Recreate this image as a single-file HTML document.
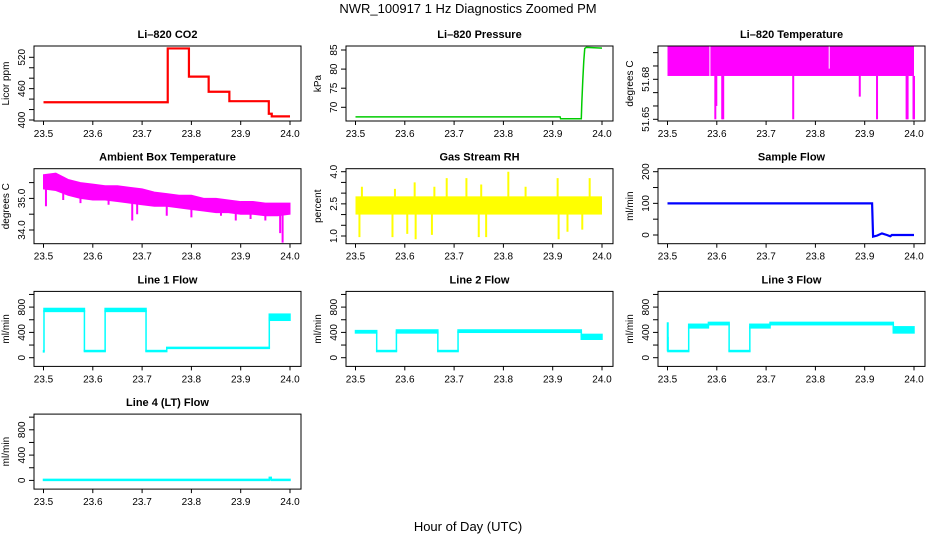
<!DOCTYPE html>
<html><head><meta charset="utf-8">
<style>
html,body{margin:0;padding:0;background:#fff;}
svg{display:block;font-family:"Liberation Sans",sans-serif;}
</style></head>
<body>
<svg id="c" width="936" height="540" viewBox="0 0 936 540" xmlns="http://www.w3.org/2000/svg">
<text x="468" y="13" text-anchor="middle" font-size="13">NWR_100917  1 Hz Diagnostics Zoomed PM</text>
<text x="468" y="531" text-anchor="middle" font-size="13">Hour of Day (UTC)</text>
</svg>
<script>
// x ticks
const xTicks = [23.5, 23.6, 23.7, 23.8, 23.9, 24.0];
const xTickLabels = ["23.5", "23.6", "23.7", "23.8", "23.9", "24.0"];

// CO2 (step series)
const co2Times = [23.5, 23.752, 23.795, 23.835, 23.877, 23.957, 23.963, 24.0];
const co2Vals = [434, 537, 483, 454, 436, 412, 407, 407];

// Pressure
const presTimes = [23.5, 23.915, 23.916, 23.958, 23.959, 23.961, 23.963, 23.965, 23.968, 24.0];
const presVals = [67.5, 67.5, 67.0, 67.0, 71, 77, 82, 85.4, 85.7, 85.5];

// Li-820 temperature band and spikes
const tempBandLo = 51.6825;
const tempBandHi = 51.7095;
const tempSpikeTimes = [23.597, 23.599, 23.611, 23.613, 23.755, 23.89, 23.925, 23.985, 23.987, 23.999, 24.0];
const tempSpikeVals = [51.65, 51.66, 51.65, 51.65, 51.65, 51.667, 51.65, 51.65, 51.65, 51.65, 51.65];
const tempGapTimes = [23.586, 23.828, 23.72];
const tempGapLo = [51.682, 51.688, 51.705];

// Ambient box temperature band
const ambTimes = [23.5,23.525,23.55,23.575,23.6,23.625,23.65,23.675,23.7,23.725,23.75,23.775,23.8,23.825,23.85,23.875,23.9,23.925,23.95,23.975,24.0];
const ambHi = [35.75,35.8,35.6,35.5,35.45,35.4,35.4,35.35,35.3,35.2,35.15,35.1,35.1,35.0,35.0,34.95,34.9,34.9,34.85,34.85,34.85];
const ambLo = [35.3,35.25,35.1,35.0,34.95,34.95,34.9,34.85,34.8,34.75,34.75,34.7,34.65,34.6,34.55,34.55,34.5,34.5,34.45,34.45,34.5];
const ambSpikeTimes = [23.505,23.54,23.575,23.632,23.68,23.69,23.75,23.8,23.86,23.89,23.92,23.95,23.98,23.985];
const ambSpikeVals = [34.75,34.95,34.85,34.8,34.3,34.5,34.45,34.4,34.45,34.3,34.35,34.3,33.9,33.6];

// Gas stream RH
const rhBandLo = 2.0;
const rhBandHi = 2.85;
const rhSpikeTimes = [23.508,23.513,23.575,23.58,23.605,23.62,23.622,23.655,23.66,23.685,23.725,23.75,23.755,23.765,23.81,23.845,23.91,23.912,23.93,23.96,23.975];
const rhSpikeVals = [0.95,3.3,0.95,3.2,1.1,3.5,0.85,1.05,3.3,3.7,3.7,0.95,3.4,0.95,4.0,3.3,3.7,0.85,1.2,1.3,3.7];

// Sample flow
const sfTimes = [23.5, 23.915, 23.917, 23.925, 23.935, 23.945, 23.952, 23.955, 24.0];
const sfVals = [100, 100, -5, -2, 5, 0, -4, 0, 0];

// Line flows (segments)
const l1Start = [23.5,23.501,23.583,23.625,23.708,23.75,23.958];
const l1End = [23.501,23.583,23.625,23.708,23.75,23.958,24.0];
const l1Lo = [100,720,95,720,95,140,580];
const l1Hi = [100,790,105,790,105,155,700];
const l2Start = [23.5,23.543,23.583,23.667,23.708,23.958];
const l2End = [23.543,23.583,23.667,23.708,23.958,24.0];
const l2Lo = [380,95,380,95,390,280];
const l2Hi = [440,105,450,105,450,380];
const l3Start = [23.5,23.501,23.543,23.583,23.625,23.667,23.708,23.958];
const l3End = [23.501,23.543,23.583,23.625,23.667,23.708,23.958,24.0];
const l3Lo = [100,95,460,510,95,460,510,380];
const l3Hi = [560,105,540,570,105,540,570,500];
const l4Start = [23.5,23.958,23.962];
const l4End = [23.958,23.962,24.0];
const l4Lo = [0,0,0];
const l4Hi = [8,60,8];

const svg = document.getElementById('c');
const NS = 'http://www.w3.org/2000/svg';
function mk(tag, attrs, parent){
  const e = document.createElementNS(NS, tag);
  for (const k in attrs) e.setAttribute(k, attrs[k]);
  (parent||svg).appendChild(e);
  return e;
}
const colLeft = [34, 346, 658];
const rowTop = [46, 168.7, 291.4, 414.1];
const BW = 267, BH = 75;

function panel(col, row, cfg){
  const L = colLeft[col], T = rowTop[row];
  const g = mk('g', {});
  
  
  const sx = v => L + 9.5 + (v - 23.5) / 0.5 * 246.5;
  const sy = v => T + cfg.p1 + (v - cfg.v1) / (cfg.v2 - cfg.v1) * (cfg.p2 - cfg.p1);
  const clip = 'clip' + col + row;
  const cp = mk('clipPath', {id: clip}, g);
  mk('rect', {x: L, y: T, width: BW, height: BH}, cp);
  const plot = mk('g', {'clip-path': 'url(#' + clip + ')'}, g);
  
  
  cfg.draw(plot, sx, sy);
  const box = mk('rect', {x: L, y: T, width: BW, height: BH, fill: 'none', stroke: '#000', 'stroke-width': 1}, g);
  
  
  const t = mk('text', {x: L + BW/2, y: T - 8, 'text-anchor': 'middle', 'font-size': 11, 'font-weight': 'bold'}, g);
  t.textContent = cfg.title;
  
  
  xTicks.forEach((v, i) => {
    const x = sx(v);
    mk('line', {x1: x, x2: x, y1: T + BH, y2: T + BH + 4, stroke: '#000'}, g);
    const tl = mk('text', {x: x, y: T + BH + 16, 'text-anchor': 'middle', 'font-size': 10}, g);
    tl.textContent = xTickLabels[i];
    
    
  });
  cfg.yTicks.forEach(v => {
    const y = sy(v);
    mk('line', {x1: L - 5, x2: L, y1: y, y2: y, stroke: '#000'}, g);
  });
  cfg.yLabels.forEach((s, i) => {
    const y = sy(cfg.yLabelVals[i]);
    const tl = mk('text', {x: L - 9, y: y, 'text-anchor': 'middle', 'font-size': 10, transform: 'rotate(-90 ' + (L - 9) + ' ' + y + ')'}, g);
    tl.textContent = s;
    
    
  });
  const yt = mk('text', {x: L - 25, y: T + BH/2, 'text-anchor': 'middle', 'font-size': 10, transform: 'rotate(-90 ' + (L - 25) + ' ' + (T + BH/2) + ')'}, g);
  yt.textContent = cfg.ylab;
  
  
}

function stepPath(ts, vs, sx, sy){
  let d = 'M' + sx(ts[0]) + ' ' + sy(vs[0]);
  for (let i = 1; i < ts.length; i++){
    d += ' L' + sx(ts[i]) + ' ' + sy(vs[i-1]) + ' L' + sx(ts[i]) + ' ' + sy(vs[i]);
  }
  return d;
}
function linePath(ts, vs, sx, sy){
  return ts.map((t, i) => (i ? 'L' : 'M') + sx(t) + ' ' + sy(vs[i])).join(' ');
}
function interp(ts, vs, t){
  for (let i = 1; i < ts.length; i++){
    if (t <= ts[i]){
      const f = (t - ts[i-1]) / (ts[i] - ts[i-1]);
      return vs[i-1] + f * (vs[i] - vs[i-1]);
    }
  }
  return vs[vs.length - 1];
}
function spikes(p, ts, vs, baseFn, color, sx, sy){
  ts.forEach((t, i) => {
    const l = mk('line', {x1: sx(t), x2: sx(t), y1: sy(baseFn(t)), y2: sy(vs[i]), stroke: color, 'stroke-width': 2}, p);
    
    
  });
}
function segs(p, st, en, lo, hi, color, sx, sy){
  let prevY = null;
  st.forEach((s, i) => {
    const x1 = sx(s), x2 = sx(en[i]);
    const yh = sy(hi[i]), yl = sy(lo[i]);
    const h = Math.max(yl - yh, 2.5);
    const r = mk('rect', {x: x1 - 0.75, y: yh - (h === 2.5 ? 1.25 : 0), width: Math.max(x2 - x1, 0) + 1.5, height: h, fill: color}, p);
    
    
    const midY = (yh + yl) / 2;
    if (prevY !== null){
      mk('line', {x1: x1, x2: x1, y1: prevY, y2: midY, stroke: color, 'stroke-width': 1.5}, p);
    }
    prevY = midY;
  });
}

panel(0, 0, {name: 'co2-panel', title: 'Li\u2013820 CO2', ylab: 'Licor ppm', v1: 400, p1: 74, v2: 520, p2: 11.3,
  yTicks: [400,420,440,460,480,500,520], yLabels: ['400','460','520'], yLabelVals: [400,460,520],
  draw: (p, sx, sy) => {
    const e = mk('path', {d: stepPath(co2Times, co2Vals, sx, sy), fill: 'none', stroke: '#ff0000', 'stroke-width': 2.2}, p);
     
  }});

panel(1, 0, {name: 'pressure-panel', title: 'Li\u2013820 Pressure', ylab: 'kPa', v1: 70, p1: 61.3, v2: 85, p2: 4,
  yTicks: [70,75,80,85], yLabels: ['70','75','80','85'], yLabelVals: [70,75,80,85],
  draw: (p, sx, sy) => {
    const e = mk('path', {d: linePath(presTimes, presVals, sx, sy), fill: 'none', stroke: '#00cc00', 'stroke-width': 1.5}, p);
     
  }});

panel(2, 0, {name: 'temperature-panel', title: 'Li\u2013820 Temperature', ylab: 'degrees C', v1: 51.65, p1: 73.3, v2: 51.68, p2: 33.3,
  yTicks: [51.65,51.66,51.67,51.68,51.69,51.70], yLabels: ['51.65','51.68'], yLabelVals: [51.65,51.68],
  draw: (p, sx, sy) => {
    const b = mk('rect', {x: sx(23.5), y: sy(tempBandHi), width: sx(24.0) - sx(23.5), height: sy(tempBandLo) - sy(tempBandHi), fill: '#ff00ff'}, p);
     
    spikes(p, tempSpikeTimes, tempSpikeVals, () => tempBandLo, '#ff00ff', sx, sy);
    tempGapTimes.forEach((t, i) => mk('line', {x1: sx(t), x2: sx(t), y1: sy(tempBandHi), y2: sy(tempGapLo[i]), stroke: '#fff', 'stroke-width': 1}, p));
  }});

panel(0, 1, {name: 'ambient-panel', title: 'Ambient Box Temperature', ylab: 'degrees C', v1: 34, p1: 61.3, v2: 35, p2: 29.7,
  yTicks: [34,34.5,35,35.5], yLabels: ['34.0','35.0'], yLabelVals: [34,35],
  draw: (p, sx, sy) => {
    let d = ambTimes.map((t, i) => (i ? 'L' : 'M') + sx(t) + ' ' + sy(ambHi[i])).join(' ');
    for (let i = ambTimes.length - 1; i >= 0; i--) d += ' L' + sx(ambTimes[i]) + ' ' + sy(ambLo[i]);
    const e = mk('path', {d: d + 'Z', fill: '#ff00ff', stroke: '#ff00ff', 'stroke-width': 1}, p);
     
    spikes(p, ambSpikeTimes, ambSpikeVals, t => interp(ambTimes, ambHi, t), '#ff00ff', sx, sy);
  }});

panel(1, 1, {name: 'rh-panel', title: 'Gas Stream RH', ylab: 'percent', v1: 1.0, p1: 67.3, v2: 4.0, p2: 3,
  yTicks: [1,1.5,2,2.5,3,3.5,4], yLabels: ['1.0','2.5','4.0'], yLabelVals: [1,2.5,4],
  draw: (p, sx, sy) => {
    const b = mk('rect', {x: sx(23.5), y: sy(rhBandHi), width: sx(24.0) - sx(23.5), height: sy(rhBandLo) - sy(rhBandHi), fill: '#ffff00'}, p);
     
    spikes(p, rhSpikeTimes, rhSpikeVals, () => 2.4, '#ffff00', sx, sy);
  }});

panel(2, 1, {name: 'sample-flow-panel', title: 'Sample Flow', ylab: 'ml/min', v1: 0, p1: 66.3, v2: 200, p2: 3,
  yTicks: [0,50,100,150,200], yLabels: ['0','100','200'], yLabelVals: [0,100,200],
  draw: (p, sx, sy) => {
    const e = mk('path', {d: linePath(sfTimes, sfVals, sx, sy), fill: 'none', stroke: '#0000ff', 'stroke-width': 2.2}, p);
     
  }});

const flowAxis = {ylab: 'ml/min', v1: 0, p1: 66.3, v2: 800, p2: 15.7,
  yTicks: [0,200,400,600,800,1000], yLabels: ['0','400','800'], yLabelVals: [0,400,800]};
panel(0, 2, Object.assign({name: 'line1-flow-panel', title: 'Line 1 Flow',
  draw: (p, sx, sy) => segs(p, l1Start, l1End, l1Lo, l1Hi, '#00ffff', sx, sy)}, flowAxis));
panel(1, 2, Object.assign({name: 'line2-flow-panel', title: 'Line 2 Flow',
  draw: (p, sx, sy) => segs(p, l2Start, l2End, l2Lo, l2Hi, '#00ffff', sx, sy)}, flowAxis));
panel(2, 2, Object.assign({name: 'line3-flow-panel', title: 'Line 3 Flow',
  draw: (p, sx, sy) => segs(p, l3Start, l3End, l3Lo, l3Hi, '#00ffff', sx, sy)}, flowAxis));
panel(0, 3, Object.assign({name: 'line4-flow-panel', title: 'Line 4 (LT) Flow',
  draw: (p, sx, sy) => segs(p, l4Start, l4End, l4Lo, l4Hi, '#00ffff', sx, sy)}, flowAxis));
</script>
</body></html>
